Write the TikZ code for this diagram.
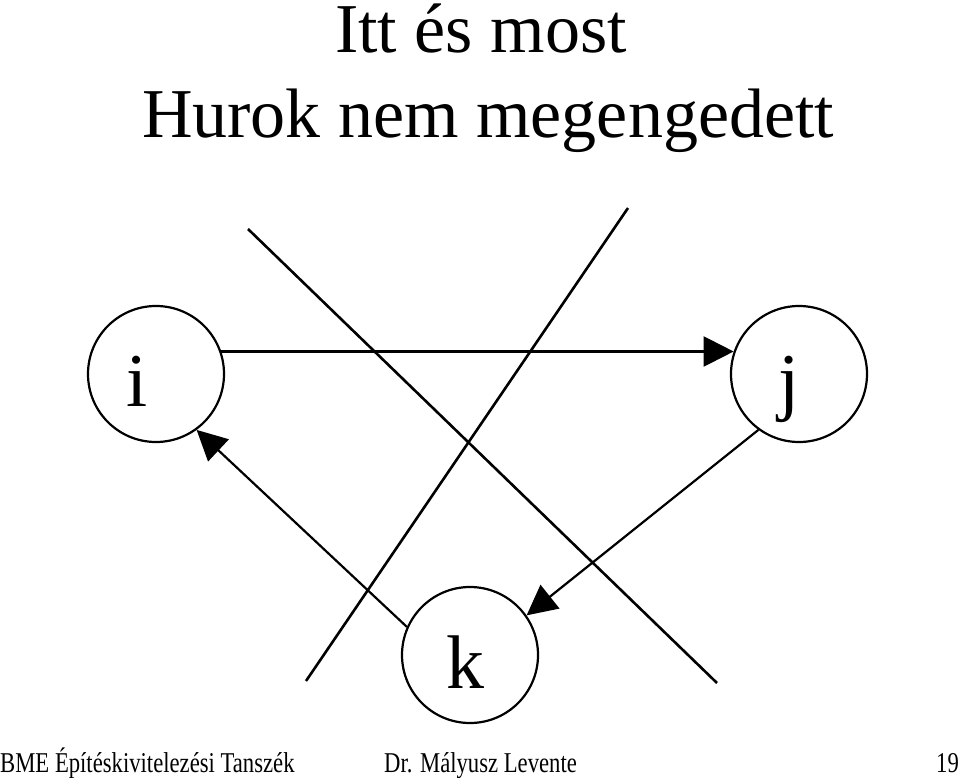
\documentclass[tikz,border=0pt]{standalone}
\usepackage{fontspec}
\setmainfont{Liberation Serif}
\usepackage{graphicx}
\usetikzlibrary{arrows.meta}
\definecolor{ink}{HTML}{000000}
\tikzset{
  every node/.style = {text=ink},
  hkvert/.style  = {circle, draw=ink, line width=2.2pt, minimum size=136pt, inner sep=0pt},
  hklab/.style   = {font=\fontsize{76}{76}\selectfont, anchor=base, inner sep=0pt},
  hkgo/.style    = {-{Triangle[length=30pt,width=30pt]}, draw=ink, line width=2.2pt},
  hkcross/.style = {draw=ink, line width=2.6pt},
  hkhead/.style  = {font=\fontsize{70}{70}\selectfont, anchor=base, inner sep=0pt,
                    text height=48pt},
  hkfoot/.style  = {font=\fontsize{28.7}{28.7}\selectfont, anchor=base west, inner sep=0pt},
}

\begin{document}
\begin{tikzpicture}[x=1pt, y=-1pt]
\useasboundingbox (0,0) rectangle (959,778);

% title
\node[hkhead] (T1) at (481,53) {Itt és most};
\node[hkhead] (T2) at (488,138) {Hurok nem megengedett};

% the three events
\node[hkvert] (i) at (156,374) {};
\node[hkvert] (j) at (799,374) {};
\node[hkvert] (k) at (470,655) {};
\node[hklab] (ti) at (137,406) {i};
\node[hklab] (tj) at (789,406) {j};
\node[hklab] (tk) at (465,688) {k};

% the loop
\draw[hkgo] (i.19) -- (j.161);
\draw[hkgo] (j.234) -- (k.35);
\draw[hkgo] (k.156) -- (i.306);

% crossed out
\coordinate (xa1) at (248,229);
\coordinate (xa2) at (717,683);
\coordinate (xb1) at (628,208);
\coordinate (xb2) at (306,681);
\draw[hkcross] (xa1) -- (xa2);
\draw[hkcross] (xb1) -- (xb2);

% footer
\node[hkfoot] (F1) at (0,772) {\scalebox{0.79}[1]{BME Építéskivitelezési Tanszék}};
\node[hkfoot] (F2) at (384,772) {\scalebox{0.79}[1]{Dr. Mályusz Levente}};
\node[hkfoot] (F3) at (936,772) {\scalebox{0.79}[1]{19}};
\end{tikzpicture}
\end{document}
